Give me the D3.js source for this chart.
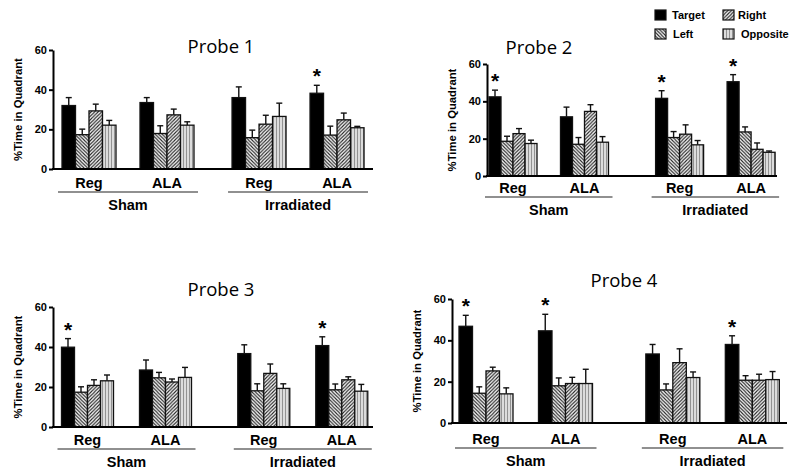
<!DOCTYPE html>
<html><head><meta charset="utf-8">
<script src="https://cdn.jsdelivr.net/npm/d3@7"></script>
<style>
body{margin:0;background:#fff;}
svg{display:block;}
.lbl{font-family:"Liberation Sans",Arial,sans-serif;font-weight:bold;fill:#000;}
.title{font-family:"Open Sans","Noto Sans",sans-serif;fill:#000;}
</style></head><body>
<script>
// ---------- DATA ----------
const series = ["Target", "Left", "Right", "Opposite"];
const groups = ["Reg", "ALA", "Reg", "ALA"];
const conditions = ["Sham", "Irradiated"];
const yTicks = [0, 20, 40, 60];
const probeTitles = ["Probe 1", "Probe 2", "Probe 3", "Probe 4"];

// mean % time per group (rows: Sham Reg, Sham ALA, Irr Reg, Irr ALA; cols: Target, Left, Right, Opposite)
const probe1Means = [[32.0,17.3,29.3,22.1],[33.5,17.9,27.3,22.1],[36.0,15.8,22.6,26.5],[38.2,17.1,24.8,20.8]];
const probe1Sem   = [[4.0,2.8,3.4,2.4],[2.5,3.9,2.9,1.7],[5.4,3.8,4.5,6.7],[4.0,4.5,3.4,0.7]];
const probe2Means = [[42.4,18.6,22.7,17.4],[31.7,17.0,34.6,18.1],[41.6,20.6,22.4,16.7],[50.5,23.6,14.3,12.7]];
const probe2Sem   = [[3.6,2.7,2.7,1.8],[5.2,3.6,3.6,3.0],[4.1,3.2,5.0,2.3],[3.8,2.7,3.4,0.7]];
const probe3Means = [[39.9,17.4,20.8,23.1],[28.5,24.6,22.5,24.8],[36.7,18.1,26.8,19.3],[40.7,18.6,23.6,17.9]];
const probe3Sem   = [[4.3,2.7,2.8,2.9],[5.0,2.7,1.5,5.0],[4.4,3.5,4.7,2.3],[4.4,2.9,1.5,3.4]];
const probe4Means = [[46.8,14.4,25.2,14.1],[44.6,18.0,19.1,19.1],[33.4,16.0,29.2,22.0],[38.0,20.7,20.7,21.0]];
const probe4Sem   = [[5.3,3.1,1.8,2.9],[8.0,3.8,3.0,6.9],[4.6,2.9,6.7,2.7],[4.2,2.2,2.9,3.9]];
// groups whose Target bar is marked significant (*)
const probe1Stars = [3];
const probe2Stars = [0, 2, 3];
const probe3Stars = [0, 3];
const probe4Stars = [0, 1, 3];

// ---------- LAYOUT ----------
const W = 800, H = 474;
const svg = d3.select("body").append("svg").attr("width", W).attr("height", H);
const defs = svg.append("defs");

function hatch(id, bg, draw) {
  const p = defs.append("pattern").attr("id", id).attr("patternUnits", "userSpaceOnUse")
    .attr("width", 3.5).attr("height", 3.5);
  p.append("rect").attr("width", 3.5).attr("height", 3.5).attr("fill", bg);
  draw(p);
}
hatch("pLeft", "#fff", p => {
  p.append("path").attr("d", "M-1,-1 L4.5,4.5 M-1,2.5 L1,4.5 M2.5,-1 L4.5,1").attr("stroke", "#222").attr("stroke-width", 1.1);
});
hatch("pRight", "#fff", p => {
  p.append("path").attr("d", "M-1,4.5 L4.5,-1 M-1,1 L1,-1 M2.5,4.5 L4.5,2.5").attr("stroke", "#222").attr("stroke-width", 1.1);
});
defs.append("pattern").attr("id", "pOpp").attr("patternUnits", "userSpaceOnUse")
  .attr("width", 3).attr("height", 3)
  .call(p => {
    p.append("rect").attr("width", 3).attr("height", 3).attr("fill", "#dcdcdc");
    p.append("line").attr("x1", 0.5).attr("x2", 0.5).attr("y1", 0).attr("y2", 3).attr("stroke", "#8a8a8a").attr("stroke-width", 0.9);
  });
const fills = {Target: "#000", Left: "url(#pLeft)", Right: "url(#pRight)", Opposite: "url(#pOpp)"};

const panels = [
  {title: probeTitles[0], means: probe1Means, sem: probe1Sem, stars: probe1Stars,
   ax: 53, y0: 169, y60: 50, xEnd: 373, c0: 89, step: 78, gap: 0.18, bw: 13.5,
   titleX: 221, titleY: 53, lblOff: 19, lineOff: 23, condOff: 40.5},
  {title: probeTitles[1], means: probe2Means, sem: probe2Sem, stars: probe2Stars,
   ax: 487, y0: 176, y60: 64, xEnd: 777, c0: 513, step: 71.5, gap: 0.33, bw: 12,
   titleX: 539, titleY: 54, lblOff: 17, lineOff: 21, condOff: 38.5},
  {title: probeTitles[2], means: probe3Means, sem: probe3Sem, stars: probe3Stars,
   ax: 53, y0: 427, y60: 307, xEnd: 373, c0: 87.5, step: 78, gap: 0.26, bw: 13,
   titleX: 221, titleY: 296, lblOff: 18, lineOff: 22, condOff: 40},
  {title: probeTitles[3], means: probe4Means, sem: probe4Sem, stars: probe4Stars,
   ax: 452, y0: 423, y60: 299, xEnd: 787, c0: 486, step: 79.5, gap: 0.35, bw: 13.5,
   titleX: 624, titleY: 287, lblOff: 20.5, lineOff: 25, condOff: 43}
];

panels.forEach(P => {
  const g = svg.append("g");
  const y = d3.scaleLinear().domain([0, 60]).range([P.y0, P.y60]);
  const slot = i => i + (i >= 2 ? P.gap : 0);
  const xg = d3.scaleLinear().domain([0, 1]).range([P.c0, P.c0 + P.step]);
  const xs = d3.scaleBand().domain(series).range([-2 * P.bw, 2 * P.bw]);

  // title
  g.append("text").attr("class", "title").attr("x", P.titleX).attr("y", P.titleY)
    .attr("text-anchor", "middle").attr("font-size", 18.5).text(P.title);

  // y axis
  const ya = g.append("g").attr("transform", `translate(${P.ax},0)`)
    .call(d3.axisLeft(y).tickValues(yTicks).tickSize(4).tickSizeOuter(0));
  ya.select(".domain").attr("stroke", "#000").attr("stroke-width", 2);
  ya.selectAll(".tick line").attr("stroke", "#000").attr("stroke-width", 2);
  ya.selectAll(".tick text").attr("class", "lbl").attr("font-size", 11).attr("x", -6);

  g.append("text").attr("class", "lbl").attr("font-size", 11.3)
    .attr("transform", `translate(${P.ax - 31},${(P.y0 + P.y60) / 2}) rotate(-90)`)
    .attr("text-anchor", "middle").text("%Time in Quadrant");

  // bars
  P.means.forEach((row, gi) => {
    const cx = xg(slot(gi));
    row.forEach((v, si) => {
      const bx = cx + xs(series[si]);
      const mx = bx + xs.bandwidth() / 2;
      const top = y(v + P.sem[gi][si]);
      g.append("line").attr("x1", mx).attr("x2", mx).attr("y1", y(v)).attr("y2", top)
        .attr("stroke", "#111").attr("stroke-width", 1.4);
      g.append("line").attr("x1", mx - 3).attr("x2", mx + 3).attr("y1", top).attr("y2", top)
        .attr("stroke", "#111").attr("stroke-width", 1.4);
      g.append("rect").attr("x", bx).attr("y", y(v)).attr("width", xs.bandwidth())
        .attr("height", y(0) - y(v)).attr("fill", fills[series[si]])
        .attr("stroke", "#111").attr("stroke-width", 1.3);
    });
    if (P.stars.includes(gi)) {
      const mx = cx + xs("Target") + xs.bandwidth() / 2;
      g.append("text").attr("class", "lbl").attr("font-size", 21).attr("text-anchor", "middle")
        .attr("x", mx).attr("y", y(row[0] + P.sem[gi][0]) - 2).text("*");
    }
    g.append("text").attr("class", "lbl").attr("font-size", 14.5).attr("text-anchor", "middle")
      .attr("x", cx).attr("y", P.y0 + P.lblOff).text(groups[gi]);
  });

  // x axis line
  g.append("line").attr("x1", P.ax - 1).attr("x2", P.xEnd).attr("y1", P.y0).attr("y2", P.y0)
    .attr("stroke", "#000").attr("stroke-width", 2);

  // condition underlines
  conditions.forEach((c, ci) => {
    const l = xg(slot(ci * 2)) - 2 * P.bw - 4;
    const r = xg(slot(ci * 2 + 1)) + 2 * P.bw + 4;
    g.append("line").attr("x1", l).attr("x2", r).attr("y1", P.y0 + P.lineOff).attr("y2", P.y0 + P.lineOff)
      .attr("stroke", "#222").attr("stroke-width", 1.2);
    g.append("text").attr("class", "lbl").attr("font-size", 14.5).attr("text-anchor", "middle")
      .attr("x", (l + r) / 2).attr("y", P.y0 + P.condOff).text(c);
  });
});

// legend
const legendPos = [[655, 10], [655, 29], [723, 10], [723, 29]];
const legendText = [[672, 18.5], [673, 37.5], [738, 18.5], [741, 37.5]];
series.forEach((s, i) => {
  svg.append("rect").attr("x", legendPos[i][0]).attr("y", legendPos[i][1]).attr("width", 11).attr("height", 10)
    .attr("fill", fills[s]).attr("stroke", "#111").attr("stroke-width", 1.2);
  svg.append("text").attr("class", "lbl").attr("font-size", 11)
    .attr("x", legendText[i][0]).attr("y", legendText[i][1]).text(s);
});
</script>
</body></html>
